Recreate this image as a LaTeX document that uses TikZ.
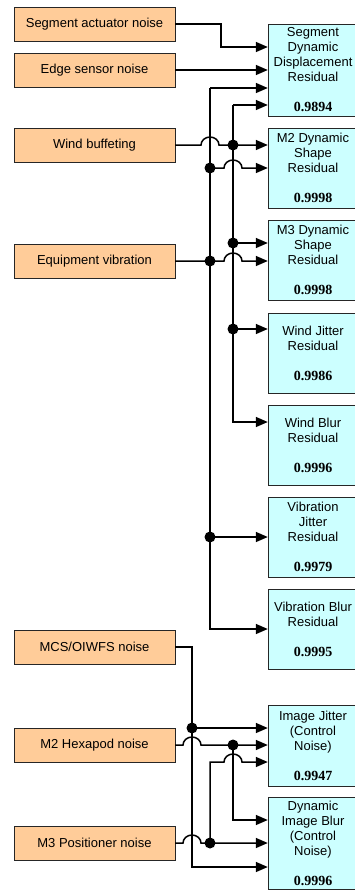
\documentclass[tikz,border=0pt]{standalone}
\usepackage{fontspec}
\setmainfont{Liberation Sans}
\newfontfamily\numfont{Liberation Serif}
\usetikzlibrary{arrows.meta,calc}

\definecolor{srcfill}{HTML}{FFCC99}
\definecolor{resfill}{HTML}{CCFFFF}

\tikzset{
  source/.style={draw=black!85, fill=srcfill, minimum width=161pt, minimum height=34pt,
    inner sep=0pt, font=\fontsize{13}{15}\selectfont},
  result/.style={draw=black!85, fill=resfill, minimum width=90pt, minimum height=80pt,
    inner sep=0pt, align=center, font=\fontsize{13}{15}\selectfont},
  conn/.style={line width=1.5pt, -{Triangle[length=12pt,width=10pt]}},
  jdot/.style={fill=black},
}
\newcommand{\resval}[1]{\\[15pt]{\numfont\bfseries\fontsize{14}{15}\selectfont #1}}

\begin{document}
\begin{tikzpicture}[x=1pt,y=1pt]
\useasboundingbox (0,0) rectangle (354,-891);

% Sorgenti
\node[source] (actnoise) at (94.5,-24) {Segment actuator noise};
\node[source] (edgenoise) at (94.5,-70) {Edge sensor noise};
\node[source] (windbuf) at (94.5,-145) {Wind buffeting};
\node[source] (equipvib) at (94.5,-261) {Equipment vibration};
\node[source] (mcsnoise) at (94.5,-647) {MCS/OIWFS noise};
\node[source] (hexnoise) at (94.5,-745) {M2 Hexapod noise};
\node[source] (posnoise) at (94.5,-843) {M3 Positioner noise};

% Residui
\node[result, minimum height=92pt] (segres) at (313,-70) {Segment\\Dynamic\\Displacement\\Residual\resval{0.9894}};
\node[result] (m2res) at (313,-168) {M2 Dynamic\\Shape\\Residual\resval{0.9998}};
\node[result] (m3res) at (313,-260) {M3 Dynamic\\Shape\\Residual\resval{0.9998}};
\node[result] (wjres) at (313,-353) {Wind Jitter\\Residual\resval{0.9986}};
\node[result] (wbres) at (313,-445) {Wind Blur\\Residual\resval{0.9996}};
\node[result] (vjres) at (313,-537) {Vibration\\Jitter\\Residual\resval{0.9979}};
\node[result] (vbres) at (313,-629) {Vibration Blur\\Residual\resval{0.9995}};
\node[result, minimum height=81pt] (ijres) at (313,-745.5) {Image Jitter\\(Control\\Noise)\resval{0.9947}};
\node[result, minimum height=92pt] (dibres) at (313,-843) {Dynamic\\Image Blur\\(Control\\Noise)\resval{0.9996}};

% Giunzioni
\coordinate (topA) at (210,-88);
\coordinate (jA1) at (210,-168);
\coordinate (jA2) at (210,-261);
\coordinate (jA3) at (210,-537);
\coordinate (botA) at (210,-629);
\coordinate (topB) at (233,-105);
\coordinate (jB1) at (233,-145);
\coordinate (jB2) at (233,-243);
\coordinate (jB3) at (233,-329);
\coordinate (botB) at (233,-422);
\coordinate (topC) at (192,-647);
\coordinate (jC1) at (192,-728);
\coordinate (botC) at (192,-867);
\coordinate (jB4) at (233,-745);
\coordinate (botB2) at (233,-820);
\coordinate (jA4) at (210,-843);
\coordinate (topA2) at (210,-762);

% Parte alta
\draw[conn] (actnoise.east) -- ++(46,0) |- ([yshift=23pt]segres.west);
\draw[conn] (edgenoise.east) -- (segres.west);
\draw[conn] (topA) -- (segres.west |- topA);
\draw[conn] (topA) -- (botA) -- (vbres.west |- botA);
\draw[conn] (topB) -- (segres.west |- topB);
\draw[conn] (topB) -- (botB) -- (wbres.west |- botB);
\draw[conn] (windbuf.east) -- ($(topA |- windbuf.east)+(-9,0)$)
  arc[start angle=180, end angle=0, x radius=9, y radius=8] -- (m2res.west |- windbuf.east);
\draw[conn] (jA1) -- ($(topB |- jA1)+(-9,0)$)
  arc[start angle=180, end angle=0, x radius=9, y radius=8] -- (m2res.west |- jA1);
\draw[conn] (equipvib.east) -- ($(topB |- equipvib.east)+(-9,0)$)
  arc[start angle=180, end angle=0, x radius=9, y radius=8] -- (m3res.west |- equipvib.east);
\draw[conn] (jB2) -- (m3res.west |- jB2);
\draw[conn] (jB3) -- (wjres.west |- jB3);
\draw[conn] (jA3) -- (vjres.west |- jA3);

% Parte bassa
\draw[conn] (mcsnoise.east) -- (topC) -- (botC) -- (dibres.west |- botC);
\draw[conn] (jC1) -- (ijres.west |- jC1);
\draw[conn] (hexnoise.east) -- ($(topC |- hexnoise.east)+(-9,0)$)
  arc[start angle=180, end angle=0, x radius=9, y radius=8] -- (ijres.west |- hexnoise.east);
\draw[conn] (jB4) -- (botB2) -- (dibres.west |- botB2);
\draw[conn] (posnoise.east) -- ($(topC |- posnoise.east)+(-9,0)$)
  arc[start angle=180, end angle=0, x radius=9, y radius=8] -- (dibres.west |- posnoise.east);
\draw[conn] (jA4) -- (topA2) -- ($(jB4 |- topA2)+(-9,0)$)
  arc[start angle=180, end angle=0, x radius=9, y radius=8] -- (ijres.west |- topA2);

% Punti
\foreach \j in {jA1,jA2,jA3,jB1,jB2,jB3,jC1,jB4,jA4}
  \fill[jdot] (\j) circle[radius=5.5];
\end{tikzpicture}
\end{document}
